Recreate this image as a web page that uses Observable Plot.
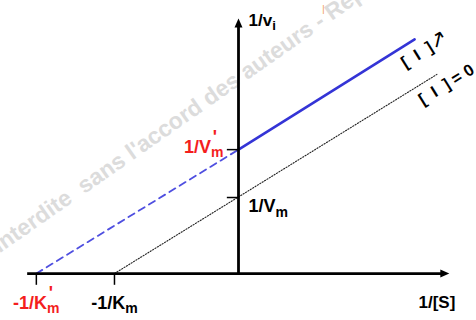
<!DOCTYPE html>
<html>
<head>
<meta charset="utf-8">
<script src="https://cdn.jsdelivr.net/npm/d3@7"></script>
<script src="https://cdn.jsdelivr.net/npm/@observablehq/plot@0.6"></script>
<style>
  body { margin: 0; background: #fff; overflow: hidden; }
  svg { display: block; }
</style>
</head>
<body>
<div id="chart"></div>
<script>
// Lineweaver–Burk plot (1/vi against 1/[S]) without inhibitor and with inhibitor [I]:
// two parallel lines, both intercepts shifted by the inhibitor.

// index 0: [I] = 0, index 1: with inhibitor [I]
const seriesLabels = ["[\u00a0 I\u00a0 ] = 0", "[\u00a0 I\u00a0 ]\u2197"];
const xIntercepts = [-1.00, -1.63];   // -1/Km, -1/K'm
const yIntercepts = [1.00, 1.63];     // 1/Vm, 1/V'm
const xEnds = [1.60, 1.42];           // last 1/[S] drawn for each line
const yEnds = [2.62, 3.08];           // 1/vi at that point
const xTickLabels = ["-1/K_{m}", "-1/K_{m}^{'}"];
const yTickLabels = ["1/V_{m}", "1/V_{m}^{'}"];
const axisTitles = ["1/[S]", "1/v_{i}"];
const watermark = "interdite\u00a0 sans l'accord des auteurs - Reproduction";

// axis extents (arrow tips)
const xAxisFrom = -1.70, xAxisTip = 1.70, xAxisLineEnd = 1.637;
const yAxisTip = 3.355, yAxisLineEnd = 3.25;

const RED = "#f41e1e";
const ink = ["#000", RED];
const font = "Liberation Sans, Arial, Helvetica, sans-serif";

// filled arrowheads with the tip at the point
const headRight = { draw(c) { c.moveTo(0, 0); c.lineTo(-9, -4); c.lineTo(-9, 4); c.closePath(); } };
const headUp = { draw(c) { c.moveTo(0, 0); c.lineTo(-4, 9); c.lineTo(4, 9); c.closePath(); } };

const bold = { fontFamily: font, fontWeight: "bold", lineAnchor: "bottom" };

const marks = [
  // faint watermark behind the chart
  Plot.text([watermark], {
    frameAnchor: "bottom-left", dx: -1, dy: -67, rotate: -35,
    textAnchor: "start", fontSize: 23, fill: "#dcdcdc", ...bold
  }),
  Plot.text(["|"], {
    frameAnchor: "top-left", dx: 323, dy: 11, textAnchor: "middle",
    fontSize: 9, fill: "#f09446", fontFamily: font, lineAnchor: "bottom"
  }),

  // with inhibitor: dashed extrapolation, then solid line
  Plot.line([[xIntercepts[1], 0], [0, yIntercepts[1]]], {
    stroke: "#4f4fe0", strokeWidth: 1.8, strokeDasharray: "7,5"
  }),
  Plot.line([[0, yIntercepts[1]], [xEnds[1], yEnds[1]]], {
    stroke: "#3434d6", strokeWidth: 2.6
  }),
  // without inhibitor: dotted line
  Plot.line([[xIntercepts[0], 0], [xEnds[0], yEnds[0]]], {
    stroke: "#222", strokeWidth: 1.1, strokeDasharray: "1.2,1.6"
  }),

  // axes
  Plot.ruleY([0], { x1: xAxisFrom, x2: xAxisLineEnd, stroke: "#000", strokeWidth: 2.8 }),
  Plot.ruleX([0], { y1: 0, y2: yAxisLineEnd, stroke: "#000", strokeWidth: 2.8 }),
  Plot.dot([[xAxisTip, 0]], { symbol: headRight, fill: "#000", stroke: "none" }),
  Plot.dot([[0, yAxisTip]], { symbol: headUp, fill: "#000", stroke: "none" }),

  // intercept ticks
  Plot.ruleX(xIntercepts, { y1: 0, y2: -0.155, stroke: "#000", strokeWidth: 1.5 }),
  Plot.ruleY(yIntercepts, { x1: -0.09, x2: 0, stroke: "#000", strokeWidth: 1.5 }),

  // intercept labels
  ...xIntercepts.map((x, i) => Plot.text([x], {
    x: d => d, y: 0, text: () => xTickLabels[i], fill: ink[i],
    dy: 35, textAnchor: "middle", fontSize: 18, ...bold
  })),
  Plot.text([yIntercepts[0]], {
    x: 0, y: d => d, text: () => yTickLabels[0], fill: ink[0],
    dx: 10, dy: 14.5, textAnchor: "start", fontSize: 18, ...bold
  }),
  Plot.text([yIntercepts[1]], {
    x: 0, y: d => d, text: () => yTickLabels[1], fill: ink[1],
    dx: -15, dy: 3, textAnchor: "end", fontSize: 18, ...bold
  }),

  // axis titles
  Plot.text([xAxisTip], {
    x: d => d, y: 0, text: () => axisTitles[0], fill: "#000",
    dx: 6, dy: 34, textAnchor: "end", fontSize: 17, ...bold
  }),
  Plot.text([yAxisTip], {
    x: 0, y: d => d, text: () => axisTitles[1], fill: "#000",
    dx: 10, dy: 7, textAnchor: "start", fontSize: 17, ...bold
  }),

  // series labels along the line ends
  Plot.text([0], {
    x: () => xEnds[0], y: () => yEnds[0], text: () => seriesLabels[0], fill: "#000",
    dx: -14, dy: 31, rotate: -32, textAnchor: "start", fontSize: 16.5, ...bold
  }),
  Plot.text([1], {
    x: () => xEnds[1], y: () => yEnds[1], text: () => seriesLabels[1], fill: "#000",
    dx: -9, dy: 29, rotate: -32, textAnchor: "start", fontSize: 16.5, ...bold
  })
];

const chart = Plot.plot({
  width: 476,
  height: 320,
  margin: 0,
  x: { domain: [-1.919, 1.919], axis: null },
  y: { domain: [-0.618, 3.592], axis: null },
  style: { background: "#fff", fontFamily: font, overflow: "visible" },
  marks
});

// turn "base_{sub}^{sup}" into subscript / superscript tspans,
// and enlarge the trailing arrow of the inhibitor label
d3.select(chart).selectAll("text").each(function () {
  const s = this.textContent;
  const arrow = s.indexOf("\u2197");
  if (arrow > 0) {
    const t = d3.select(this).text(null);
    t.append("tspan").text(s.slice(0, arrow));
    t.append("tspan").attr("font-size", "1.3em").attr("font-weight", "normal").text("\u2197");
    return;
  }
  const m = s.match(/^(.*?)_\{(.*?)\}(?:\^\{(.*?)\})?$/);
  if (!m) return;
  const t = d3.select(this).text(null);
  t.append("tspan").text(m[1]);
  t.append("tspan").attr("font-size", "0.78em").attr("dy", "0.33em").text(m[2]);
  if (m[3]) t.append("tspan").attr("dx", "-0.6em").attr("dy", "-0.8em").text(m[3]);
});

document.getElementById("chart").append(chart);
</script>
</body>
</html>
